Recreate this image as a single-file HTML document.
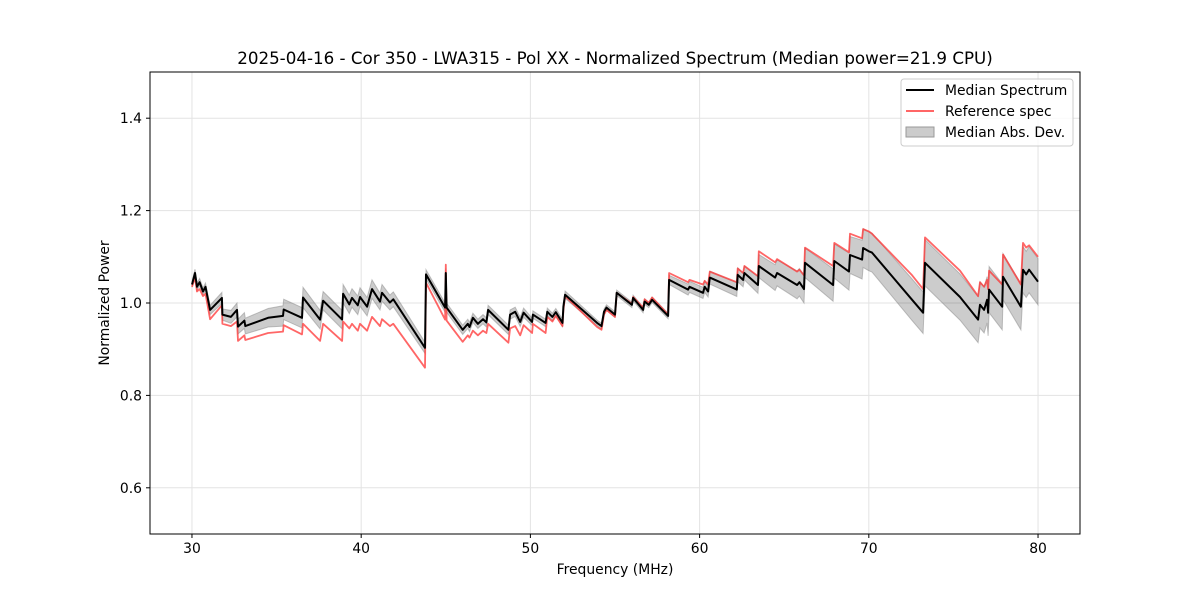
<!DOCTYPE html>
<html><head><meta charset="utf-8"><style>
body{margin:0;background:#fff;}
svg text{font-family:"DejaVu Sans","Liberation Sans",sans-serif;fill:#000;}
</style></head><body>
<svg id="chart" width="1200" height="600" viewBox="0 0 1200 600" xmlns="http://www.w3.org/2000/svg">
<rect width="1200" height="600" fill="#fff"/>
<g id="grid"></g>
<g id="series"></g>
<rect x="150" y="72" width="930" height="462" fill="none" stroke="#000" stroke-width="1"/>
<g id="axes"></g>
<text x="615" y="64" text-anchor="middle" font-size="16.7">2025-04-16 - Cor 350 - LWA315 - Pol XX - Normalized Spectrum (Median power=21.9 CPU)</text>
<text x="615" y="574" text-anchor="middle" font-size="13.9">Frequency (MHz)</text>
<text transform="translate(109,303) rotate(-90)" text-anchor="middle" font-size="13.9">Normalized Power</text>
<g>
<rect x="901" y="79" width="172" height="67" rx="3" fill="#fff" fill-opacity="0.8" stroke="#ccc"/>
<g><line x1="906" y1="90" x2="934" y2="90" stroke="#000" stroke-width="2"/><text x="945" y="95" font-size="13.9">Median Spectrum</text></g>
<g><line x1="906" y1="111" x2="934" y2="111" stroke="#ff5555" stroke-opacity="0.9" stroke-width="2"/><text x="945" y="116" font-size="13.9">Reference spec</text></g>
<g><rect x="906" y="127" width="28" height="10" fill="#000" fill-opacity="0.2" stroke="#999"/><text x="945" y="137" font-size="13.9">Median Abs. Dev.</text></g>
</g>
</svg>
<script>
const freqs=[30.0,30.18,30.3,30.45,30.65,30.8,31.07,31.77,31.8,32.3,32.66,32.72,33.1,33.15,34.5,35.38,35.42,36.5,36.56,37.57,37.75,38.87,38.93,39.3,39.46,39.8,39.93,40.35,40.64,41.11,41.23,41.7,41.9,43.77,43.83,44.96,45.0,45.05,46.0,46.3,46.4,46.6,46.9,47.2,47.4,47.5,48.7,48.8,49.1,49.4,49.6,50.1,50.15,50.9,51.0,51.3,51.5,51.9,51.95,52.05,53.94,54.2,54.35,54.5,55.0,55.1,56.0,56.07,56.66,56.75,57.0,57.19,58.14,58.2,59.32,59.4,60.2,60.3,60.5,60.6,62.2,62.25,62.57,62.65,63.45,63.5,64.46,64.58,65.76,65.9,66.17,66.23,67.89,67.96,68.83,68.89,69.6,69.66,70.0,70.19,72.56,73.21,73.32,75.39,76.46,76.57,76.81,76.99,77.05,77.11,77.88,77.93,78.99,79.11,79.3,79.47,80.0];
const median=[1.040,1.065,1.035,1.045,1.025,1.035,0.985,1.011,0.975,0.97,0.985,0.949,0.962,0.950,0.968,0.972,0.986,0.968,1.012,0.964,1.005,0.964,1.02,0.997,1.011,0.995,1.013,0.992,1.03,1.003,1.022,1.001,1.008,0.903,1.062,0.99,1.065,0.99,0.942,0.955,0.948,0.968,0.955,0.965,0.958,0.985,0.942,0.975,0.981,0.959,0.979,0.959,0.975,0.957,0.981,0.97,0.98,0.957,0.992,1.018,0.957,0.95,0.981,0.99,0.975,1.022,0.996,1.011,0.985,1.003,0.996,1.007,0.972,1.05,1.029,1.035,1.022,1.035,1.025,1.055,1.029,1.061,1.05,1.065,1.039,1.08,1.055,1.065,1.039,1.045,1.03,1.087,1.039,1.091,1.068,1.104,1.094,1.119,1.112,1.109,1.007,0.979,1.087,1.013,0.964,0.996,0.985,1.007,0.979,1.029,0.992,1.057,0.992,1.072,1.062,1.072,1.046];
const reference=[1.035,1.055,1.025,1.03,1.015,1.02,0.965,0.995,0.955,0.95,0.96,0.918,0.93,0.92,0.935,0.938,0.952,0.932,0.955,0.918,0.955,0.918,0.96,0.945,0.955,0.94,0.955,0.94,0.97,0.95,0.965,0.95,0.955,0.86,1.044,0.964,1.083,0.962,0.916,0.93,0.925,0.94,0.93,0.94,0.935,0.955,0.914,0.945,0.95,0.93,0.952,0.935,0.955,0.935,0.97,0.96,0.972,0.95,0.985,1.015,0.948,0.942,0.975,0.985,0.97,1.022,0.998,1.013,0.99,1.008,1.0,1.012,0.975,1.065,1.045,1.05,1.04,1.048,1.04,1.068,1.045,1.075,1.065,1.08,1.058,1.112,1.088,1.095,1.068,1.072,1.06,1.12,1.08,1.13,1.11,1.15,1.14,1.16,1.155,1.15,1.06,1.03,1.142,1.07,1.015,1.045,1.035,1.05,1.03,1.07,1.04,1.105,1.04,1.13,1.12,1.125,1.1];
const mad=[0.006,0.008,0.008,0.008,0.008,0.008,0.01,0.012,0.012,0.014,0.015,0.016,0.017,0.017,0.02,0.022,0.022,0.022,0.022,0.02,0.02,0.02,0.02,0.02,0.02,0.02,0.02,0.02,0.02,0.018,0.018,0.016,0.016,0.012,0.01,0.01,0.01,0.01,0.01,0.01,0.01,0.01,0.01,0.01,0.01,0.01,0.01,0.01,0.01,0.01,0.01,0.008,0.008,0.008,0.008,0.008,0.008,0.008,0.008,0.008,0.006,0.006,0.006,0.006,0.006,0.006,0.006,0.006,0.006,0.006,0.006,0.006,0.006,0.01,0.012,0.012,0.012,0.012,0.012,0.014,0.015,0.015,0.015,0.015,0.018,0.025,0.028,0.028,0.03,0.03,0.03,0.032,0.035,0.037,0.04,0.04,0.042,0.042,0.042,0.042,0.045,0.045,0.05,0.05,0.05,0.05,0.05,0.05,0.05,0.05,0.05,0.05,0.05,0.05,0.05,0.05,0.05];
const xTicks=[30,40,50,60,70,80];
const yTicks=[0.6,0.8,1.0,1.2,1.4];
const yTickLabels=["0.6","0.8","1.0","1.2","1.4"];

const NS="http://www.w3.org/2000/svg";
const X0=150,X1=1080,Y0=72,Y1=534,XMIN=27.52,XMAX=82.48,YMIN=0.5,YMAX=1.5;
function sx(v){return X0+(v-XMIN)/(XMAX-XMIN)*(X1-X0);}
function sy(v){return Y1-(v-YMIN)/(YMAX-YMIN)*(Y1-Y0);}
function mk(tag,attrs,parent){const e=document.createElementNS(NS,tag);for(const k in attrs)e.setAttribute(k,attrs[k]);parent.appendChild(e);return e;}
const grid=document.getElementById('grid'),axes=document.getElementById('axes'),series=document.getElementById('series');
xTicks.forEach(t=>{
  const x=sx(t);
  const g=mk('line',{x1:x,x2:x,y1:Y0,y2:Y1,stroke:'#e3e3e3','stroke-width':1},grid);
  
  
  const tk=mk('line',{x1:x,x2:x,y1:Y1,y2:Y1+4,stroke:'#000'},axes);
  
  
  const tl=mk('text',{x:x,y:Y1+19,'text-anchor':'middle','font-size':13.9},axes);
  tl.textContent=t;
  
  
});
yTicks.forEach((t,i)=>{
  const y=sy(t);
  const g=mk('line',{x1:X0,x2:X1,y1:y,y2:y,stroke:'#e3e3e3','stroke-width':1},grid);
  
  
  const tk=mk('line',{x1:X0-4,x2:X0,y1:y,y2:y,stroke:'#000'},axes);
  
  
  const tl=mk('text',{x:X0-8,y:y+5,'text-anchor':'end','font-size':13.9},axes);
  tl.textContent=yTickLabels[i];
  
  
});
let up=[],dn=[];
freqs.forEach((f,i)=>{up.push(sx(f).toFixed(1)+','+sy(median[i]+mad[i]).toFixed(1));dn.push(sx(f).toFixed(1)+','+sy(median[i]-mad[i]).toFixed(1));});
const band=mk('polygon',{points:up.concat(dn.reverse()).join(' '),fill:'#000','fill-opacity':0.2,stroke:'#888','stroke-opacity':0.5,'stroke-width':1},series);


const refL=mk('polyline',{points:freqs.map((f,i)=>sx(f).toFixed(1)+','+sy(reference[i]).toFixed(1)).join(' '),fill:'none',stroke:'#ff3333','stroke-opacity':0.75,'stroke-width':1.8,'stroke-linejoin':'round'},series);


const medL=mk('polyline',{points:freqs.map((f,i)=>sx(f).toFixed(1)+','+sy(median[i]).toFixed(1)).join(' '),fill:'none',stroke:'#000','stroke-width':2,'stroke-linejoin':'round'},series);


</script>
</body></html>
